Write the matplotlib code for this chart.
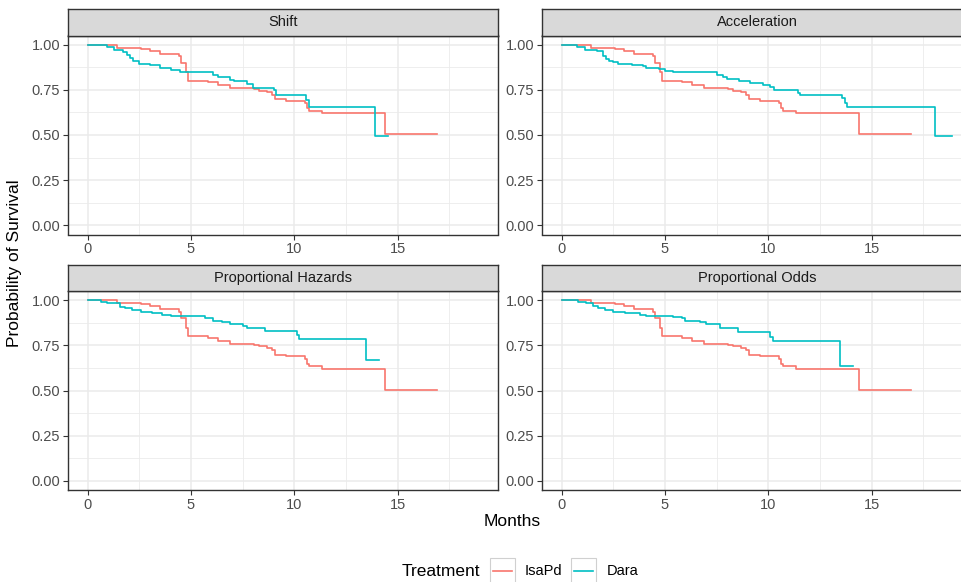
import matplotlib
matplotlib.use("Agg")
import matplotlib.pyplot as plt
from matplotlib.patches import Rectangle
from matplotlib.lines import Line2D

plt.rcParams['font.family'] = ['Liberation Sans', 'DejaVu Sans']

# IsaPd (observed KM) is the same in every panel
isa_t = [0, 1.4, 2.6, 3.0, 3.5, 4.4, 4.5, 4.75, 4.85, 5.8, 6.3, 6.9, 8.05, 8.3, 8.7, 8.9,
         9.05, 9.6, 10.5, 10.6, 10.7, 11.35, 14.4, 16.9]
isa_s = [1.0, 0.982, 0.976, 0.967, 0.948, 0.935, 0.898, 0.848, 0.80, 0.791, 0.774, 0.759,
         0.754, 0.744, 0.737, 0.722, 0.698, 0.689, 0.676, 0.648, 0.633, 0.62, 0.504, 0.504]

# Dara curves, one per model
shift_t = [0, 0.95, 1.3, 1.7, 1.9, 2.05, 2.2, 2.5, 3.0, 3.5, 4.05, 4.45, 6.05, 6.3, 6.9, 7.1,
           7.7, 8.0, 9.0, 9.1, 10.55, 10.7, 13.9, 14.55]
shift_s = [1.0, 0.987, 0.972, 0.96, 0.944, 0.926, 0.907, 0.894, 0.885, 0.87, 0.861, 0.848,
           0.833, 0.82, 0.806, 0.796, 0.783, 0.759, 0.75, 0.722, 0.694, 0.657, 0.496, 0.496]

accel_t = [0, 0.73, 1.13, 1.7, 2.0, 2.15, 2.3, 2.5, 2.74, 3.4, 3.95, 4.1, 4.7, 5.0, 5.4, 7.5,
           7.8, 8.0, 8.6, 9.1, 9.75, 10.1, 10.25, 11.45, 11.55, 13.55, 13.7, 13.8, 18.05, 18.9]
accel_s = [1.0, 0.987, 0.972, 0.963, 0.935, 0.922, 0.911, 0.904, 0.893, 0.885, 0.88, 0.87,
           0.867, 0.856, 0.846, 0.833, 0.819, 0.809, 0.80, 0.787, 0.778, 0.765, 0.75, 0.731,
           0.719, 0.704, 0.676, 0.657, 0.496, 0.496]

ph_t = [0, 0.65, 0.92, 1.56, 1.8, 2.13, 2.6, 3.1, 3.58, 4.05, 5.68, 6.08, 6.5, 6.89, 7.53,
        7.7, 8.58, 10.13, 10.24, 13.47, 14.1]
ph_s = [1.0, 0.991, 0.981, 0.963, 0.954, 0.944, 0.935, 0.926, 0.92, 0.913, 0.898, 0.885,
        0.88, 0.87, 0.857, 0.846, 0.83, 0.806, 0.787, 0.667, 0.667]

po_t = [0, 0.8, 1.2, 1.53, 1.78, 2.1, 2.5, 3.06, 3.8, 4.1, 5.4, 5.8, 5.97, 6.7, 7.0, 7.34,
        7.66, 8.55, 10.1, 10.23, 13.44, 14.1]
po_s = [1.0, 0.991, 0.981, 0.968, 0.957, 0.944, 0.935, 0.926, 0.92, 0.913, 0.907, 0.898,
        0.885, 0.876, 0.87, 0.865, 0.846, 0.824, 0.796, 0.772, 0.633, 0.633]

panel_titles = ["Shift", "Acceleration", "Proportional Hazards", "Proportional Odds"]
dara_curves = [(shift_t, shift_s), (accel_t, accel_s), (ph_t, ph_s), (po_t, po_s)]
treatments = ["IsaPd", "Dara"]
colors = {"IsaPd": "#F8766D", "Dara": "#00BFC4"}

x_ticks = [0, 5, 10, 15]
y_ticks = [0, 0.25, 0.5, 0.75, 1.0]

W, H = 962, 582
fig = plt.figure(figsize=(W / 100, H / 100), dpi=100)

# panel boxes in pixels: left, top, width, height
lefts = [68, 542, 68, 542]
tops = [35.5, 35.5, 291, 291]
pw, ph_px, strip_h = 430, 199, 26.5

xmax = max(max(t) for t, _ in dara_curves + [(isa_t, isa_s)])
xpad = 0.05 * xmax

for i, title in enumerate(panel_titles):
    l, t = lefts[i], tops[i]
    ax = fig.add_axes([l / W, 1 - (t + ph_px) / H, pw / W, ph_px / H])
    ax.set_xlim(-xpad, xmax + xpad)
    ax.set_ylim(-0.05, 1.05)
    ax.set_xticks(x_ticks)
    ax.set_yticks(y_ticks)
    ax.set_xticks([2.5, 7.5, 12.5, 17.5], minor=True)
    ax.set_yticks([0.125, 0.375, 0.625, 0.875], minor=True)
    ax.set_yticklabels([f"{v:.2f}" for v in y_ticks])
    ax.grid(True, which='major', color='#EBEBEB', lw=1.1)
    ax.grid(True, which='minor', color='#EBEBEB', lw=0.6)
    ax.set_axisbelow(True)
    ax.tick_params(which='major', length=3.5, width=0.8, color='#333333',
                   labelcolor='#4D4D4D', labelsize=10.5, pad=2)
    ax.tick_params(which='minor', length=0)
    for sp in ax.spines.values():
        sp.set_color('#333333')
        sp.set_linewidth(1.0)

    ax.step(isa_t, isa_s, where='post', color=colors["IsaPd"], lw=1.2)
    dt, ds = dara_curves[i]
    ax.step(dt, ds, where='post', color=colors["Dara"], lw=1.2)

    # facet strip
    sax = fig.add_axes([l / W, 1 - t / H, pw / W, strip_h / H])
    sax.set_facecolor('#D9D9D9')
    sax.set_xticks([])
    sax.set_yticks([])
    for sp in sax.spines.values():
        sp.set_color('#333333')
        sp.set_linewidth(1.0)
    sax.text(0.5, 0.5, title, ha='center', va='center', fontsize=10.5, color='#1A1A1A',
             transform=sax.transAxes)

fig.text(15 / W, 1 - 263 / H, "Probability of Survival", rotation=90, ha='center',
         va='center', fontsize=12.5)
fig.text(512 / W, 1 - 522 / H, "Months", ha='center', va='center', fontsize=12.5)

# legend at bottom
fig.text(402 / W, 1 - 571 / H, "Treatment", ha='left', va='center', fontsize=12.5)
key_x = [490, 571]
lab_x = [525, 607]
for name, kx, lx in zip(treatments, key_x, lab_x):
    fig.patches.append(Rectangle((kx / W, 1 - 584 / H), 25 / W, 26 / H, transform=fig.transFigure,
                                 facecolor='white', edgecolor='#D0D0D0', lw=0.8))
    fig.lines.append(Line2D([(kx + 3) / W, (kx + 22) / W], [1 - 571 / H, 1 - 571 / H],
                            transform=fig.transFigure, color=colors[name], lw=1.2))
    fig.text(lx / W, 1 - 571 / H, name, ha='left', va='center', fontsize=10.5)

fig.savefig("out.png", dpi=100)
